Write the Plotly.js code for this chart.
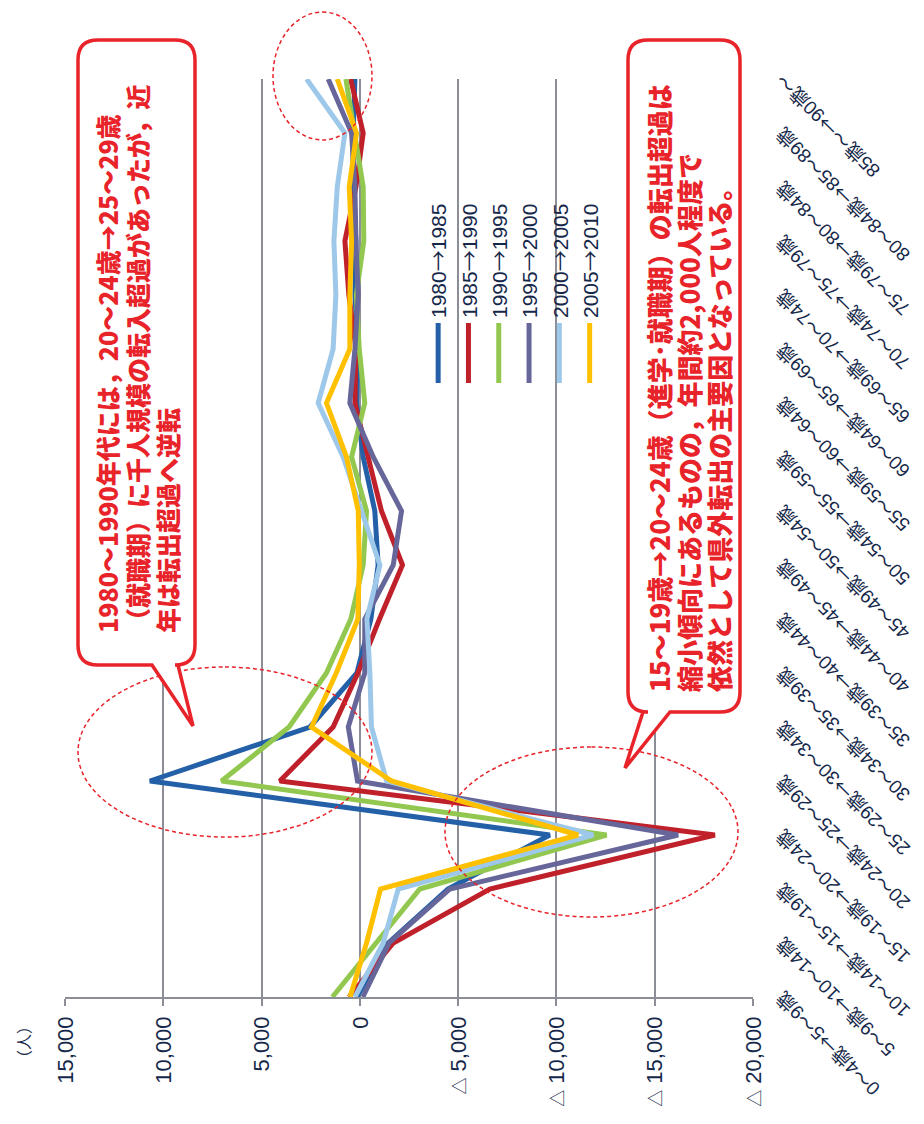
<!DOCTYPE html>
<html><head><meta charset="utf-8">
<script src="https://cdn.plot.ly/plotly-3.0.1.min.js"></script>
<style>
html,body{margin:0;padding:0;background:#fff;overflow:hidden;width:924px;height:1124px;}
#chart{position:absolute;left:0;top:0;width:1124px;height:924px;transform-origin:0 0;transform:translate(0px,1124px) rotate(-90deg);}
</style></head><body><div id="chart"></div>
<script>
// ---- data ----
const categories = ["0～4歳→5～9歳","5～9歳→10～14歳","10～14歳→15～19歳","15～19歳→20～24歳","20～24歳→25～29歳","25～29歳→30～34歳","30～34歳→35～39歳","35～39歳→40～44歳","40～44歳→45～49歳","45～49歳→50～54歳","50～54歳→55～59歳","55～59歳→60～64歳","60～64歳→65～69歳","65～69歳→70～74歳","70～74歳→75～79歳","75～79歳→80～84歳","80～84歳→85～89歳","85歳～→90歳～"];
const seriesNames = ["1980→1985","1985→1990","1990→1995","1995→2000","2000→2005","2005→2010"];
const v1980 = [150,-1440,-4480,-9660,10680,2540,150,-560,-930,-760,-170,170,100,250,200,350,340,250];
const v1985 = [550,-1700,-6610,-18060,4070,1360,100,-1000,-2170,-1100,-420,250,200,560,760,200,-170,470];
const v1990 = [1400,-800,-3050,-12550,7035,3600,1700,460,-170,-340,420,-250,30,180,-200,-170,250,710];
const v1995 = [-150,-1490,-4580,-16190,120,590,-250,-250,-1700,-2120,-680,510,250,85,200,250,420,1610];
const v2000 = [250,-1190,-1950,-11870,-1360,-590,-510,-360,-1020,-85,850,2120,1360,1220,1320,1150,760,2710];
const v2005 = [500,-340,-1050,-11100,-1610,2460,1200,100,30,80,680,1700,510,510,420,540,170,1150];
const seriesColors = ["#2360a8","#c0202a","#92c84f","#67669a","#9dc8ea","#ffc000"];
const valueTicks = [15000,10000,5000,0,-5000,-10000,-15000,-20000];
const valueTickLabels = ["15,000","10,000","5,000","0","△ 5,000","△ 10,000","△ 15,000","△ 20,000"];
const unitLabel = "（人）";
const note1 = ["1980～1990年代には，20～24歳→25～29歳","（就職期）に千人規模の転入超過があったが，近","年は転出超過へ逆転"];
const note2 = ["15～19歳→20～24歳（進学･就職期）の転出超過は","縮小傾向にあるものの，年間約2,000人程度で","依然として県外転出の主要因となっている。"];

// ---- layout helpers (chart drawn in landscape, then rotated) ----
const W = 1124, H = 924;
const M = {l:127, r:79, t:65, b:171};
const PW = W - M.l - M.r, PH = H - M.t - M.b;
const px = u => (u - M.l) / PW;
const py = v => (H - M.b - v) / PH;
const yRange = [-20000, 15000];
const GRID = "#8b8e97", NAVY = "#16284a", RED = "#e8232a";
const FONT = "'Liberation Sans', Arial, 'Noto Sans CJK JP', sans-serif";
const JFONT = "'Noto Sans CJK JP', 'Liberation Sans', sans-serif";
const cjkArrow = s => s.replace(/→/g, "<span style=\"font-family:'Noto Sans CJK JP'\">→</span>");
const smallTri = s => s.replace("△", "<span style=\"font-size:17px;font-family:'Noto Sans CJK JP'\">△</span>");

const allSeries = [v1980, v1985, v1990, v1995, v2000, v2005];
const traces = allSeries.map((vals, i) => ({
  type: "scatter", mode: "lines", name: cjkArrow(seriesNames[i]),
  x: categories, y: vals,
  line: {color: seriesColors[i], width: 5},
  hoverinfo: "skip"
}));

function roundedCallout(uL, uR, vT, vB, r, tailA, tailB, tipU, tipV) {
  const P = (u, v) => px(u).toFixed(5) + "," + py(v).toFixed(5);
  return "M" + P(uL + r, vT) + " L" + P(uR - r, vT) + " Q" + P(uR, vT) + " " + P(uR, vT + r) +
    " L" + P(uR, vB - r) + " Q" + P(uR, vB) + " " + P(uR - r, vB) +
    " L" + P(uL + r, vB) + " Q" + P(uL, vB) + " " + P(uL, vB - r) +
    " L" + P(uL, tailB) + " L" + P(tipU, tipV) + " L" + P(uL, tailA) +
    " L" + P(uL, vT + r) + " Q" + P(uL, vT) + " " + P(uL + r, vT) + " Z";
}
function ellipse(u0, u1, v0, v1) {
  return {type: "circle", xref: "paper", yref: "paper", x0: px(u0), x1: px(u1), y0: py(v1), y1: py(v0),
    line: {color: RED, width: 1.5, dash: "4px,3px"}, fillcolor: "rgba(0,0,0,0)", layer: "above"};
}

const shapes = [
  ellipse(984, 1112, 273, 372),
  ellipse(287, 457, 78, 372),
  ellipse(207, 377, 445, 738),
  {type: "path", xref: "paper", yref: "paper", path: roundedCallout(459, 1084, 78, 195, 20, 152, 178, 398, 193),
    line: {color: RED, width: 3.5}, fillcolor: "#ffffff", layer: "above"},
  {type: "path", xref: "paper", yref: "paper", path: roundedCallout(412, 1084, 628, 740, 20, 643, 670, 356, 625),
    line: {color: RED, width: 3.5}, fillcolor: "#ffffff", layer: "above"}
];

const annotations = [
  {xref: "paper", yref: "paper", x: px(108), y: py(23), xanchor: "right", yanchor: "middle",
   text: unitLabel, showarrow: false, font: {family: JFONT, size: 16, color: NAVY}}
];
const n1v = [107, 137, 167], n2v = [658, 688, 718];
note1.forEach((t, i) => annotations.push({xref: "paper", yref: "paper", x: px(489), y: py(n1v[i]),
  xanchor: "left", yanchor: "middle", text: t, showarrow: false,
  font: {family: JFONT, size: 25, color: RED, weight: 900}}));
note2.forEach((t, i) => annotations.push({xref: "paper", yref: "paper", x: px(430), y: py(n2v[i]),
  xanchor: "left", yanchor: "middle", text: t, showarrow: false,
  font: {family: JFONT, size: 26, color: RED, weight: 900}}));

const layout = {
  width: W, height: H, margin: M,
  paper_bgcolor: "#ffffff", plot_bgcolor: "#ffffff",
  font: {family: FONT, color: NAVY},
  showlegend: true,
  legend: {x: px(736), y: py(418), xanchor: "left", yanchor: "top", bgcolor: "rgba(0,0,0,0)",
    font: {family: FONT, size: 21, color: NAVY}, itemwidth: 60, tracegroupgap: 0},
  xaxis: {type: "category", range: [0, categories.length - 1], showgrid: false, showline: false,
    zeroline: false, ticks: "", tickangle: -45, tickfont: {family: FONT, size: 19, color: NAVY},
    tickmode: "array", tickvals: categories, ticktext: categories.map(cjkArrow),
    ticklabelstandoff: 14, fixedrange: true, automargin: false},
  xaxis2: {type: "linear", overlaying: "x", anchor: "free",
    position: (0 - yRange[0]) / (yRange[1] - yRange[0]),
    range: [0, categories.length - 1], tickmode: "linear", tick0: 0, dtick: 1,
    ticks: "outside", ticklen: 7, tickwidth: 2, tickcolor: GRID,
    showline: true, linecolor: GRID, linewidth: 2, showticklabels: false, showgrid: false,
    zeroline: false, layer: "below traces", fixedrange: true},
  yaxis: {range: yRange, tickmode: "array", tickvals: valueTicks, ticktext: valueTickLabels.map(smallTri),
    showgrid: true, gridcolor: GRID, gridwidth: 2, zeroline: false,
    showline: true, linecolor: GRID, linewidth: 2, ticks: "outside", ticklen: 7, tickwidth: 2, tickcolor: GRID,
    tickfont: {family: FONT, size: 22, color: NAVY}, ticklabelstandoff: 6, fixedrange: true, automargin: false},
  hovermode: false,
  shapes: shapes,
  annotations: annotations
};

Plotly.newPlot("chart", traces, layout, {staticPlot: true, displayModeBar: false});
</script></body></html>
